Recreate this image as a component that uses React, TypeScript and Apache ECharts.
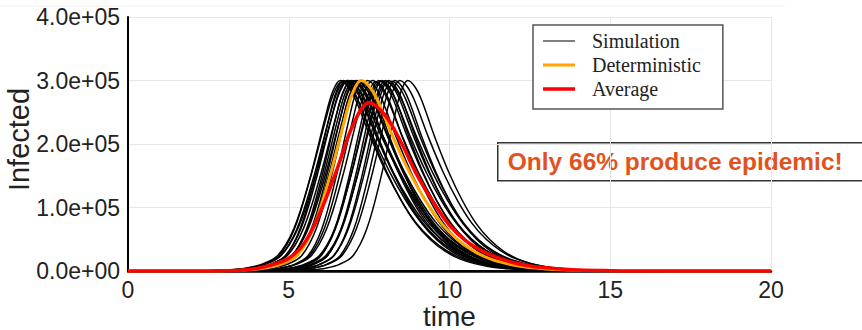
import React, { useEffect, useRef } from "react";
import * as echarts from "echarts";

// Epidemic curve shape (fraction of peak) against time offset from the peak,
// taken from the deterministic run.
const profileOffsets = [-5, -4.5, -4, -3.5, -3, -2.5, -2, -1.5, -1, -0.5, -0.25, 0, 0.25, 0.5, 1, 1.5, 2, 2.5, 3, 3.5, 4, 4.5, 5, 5.5, 6, 7, 8];
const profileShape = [0, 0.0005, 0.002, 0.006, 0.015, 0.035, 0.08, 0.22, 0.48, 0.8, 0.94, 1, 0.97, 0.9, 0.7, 0.52, 0.37, 0.25, 0.165, 0.105, 0.065, 0.04, 0.024, 0.014, 0.008, 0.003, 0.001];

// Deterministic run
const detPeakTime = 7.25;
const detPeakValue = 3.0e5;

// Stochastic runs that produced an epidemic: peak time, peak size, spread
const simPeakTimes = [6.6, 6.65, 6.7, 6.75, 6.8, 6.85, 6.9, 6.95, 7.0, 7.05, 7.1, 7.15, 7.2, 7.3, 7.45, 7.6, 7.7, 7.8, 7.85, 7.9, 8.0, 8.05, 8.1, 8.2, 8.3, 8.45, 8.7];
const simPeakValues = [3.0e5, 2.98e5, 3.0e5, 2.99e5, 3.0e5, 3.0e5, 2.98e5, 3.0e5, 2.99e5, 3.0e5, 3.0e5, 2.98e5, 3.0e5, 2.99e5, 3.0e5, 3.0e5, 2.98e5, 3.0e5, 2.99e5, 3.0e5, 3.0e5, 2.98e5, 3.0e5, 2.99e5, 3.0e5, 3.0e5, 3.0e5];
const simSpreads = [0.95, 1.0, 0.9, 1.0, 0.95, 1.05, 0.9, 1.0, 0.95, 0.9, 1.0, 0.95, 0.9, 0.85, 0.9, 0.95, 0.85, 0.9, 0.95, 0.85, 0.9, 0.95, 0.85, 0.9, 0.85, 0.9, 0.85];
// Stochastic runs that died out (flat at zero)
const flatRunCount = 14;

// Mean over all runs
const avgTimes = [0, 0.5, 1, 1.5, 2, 2.5, 3, 3.5, 4, 4.5, 5, 5.5, 6, 6.5, 7, 7.5, 8, 8.5, 9, 9.5, 10, 10.5, 11, 11.5, 12, 12.5, 13, 13.5, 14, 15, 16, 17, 18, 19, 20];
const avgValues = [0, 0, 0, 0, 0, 0, 200, 1000, 4000, 10000, 20000, 45000, 95000, 160000, 230000, 265000, 245000, 202000, 150000, 108000, 72000, 48000, 32000, 21000, 13000, 8000, 5000, 3000, 1500, 500, 0, 0, 0, 0, 0];

const xTicks = { min: 0, max: 20, interval: 5 };
const yTicks = { min: 0, max: 4e5, interval: 1e5 };

const legendNames = ["Simulation", "Deterministic", "Average"];
const xTitle = "time";
const yTitle = "Infected";
const noteText = "Only 66% produce epidemic!";

const SANS = "Liberation Sans, Arial, Helvetica, sans-serif";
const SERIF = "Liberation Serif, Times New Roman, serif";

function curve(peakTime: number, peakValue: number, spread: number): number[][] {
  const pts: number[][] = [[xTicks.min, 0]];
  profileOffsets.forEach((dt, i) => {
    const t = peakTime + dt * spread;
    if (t > xTicks.min && t < xTicks.max) pts.push([t, profileShape[i] * peakValue]);
  });
  pts.push([xTicks.max, 0]);
  return pts;
}

function sci(v: number): string {
  if (v === 0) return "0.0e+00";
  const e = Math.floor(Math.log10(v) + 1e-9);
  const m = v / Math.pow(10, e);
  return m.toFixed(1) + "e" + (e < 0 ? "-" : "+") + String(Math.abs(e)).padStart(2, "0");
}

export default function App() {
  const ref = useRef<HTMLDivElement>(null);

  useEffect(() => {
    if (!ref.current) return;
    const chart = echarts.init(ref.current, undefined, { renderer: "svg" });

    const simSeries = simPeakTimes.map((pt, i) => ({
      type: "line",
      name: "Simulation",
      data: curve(pt, simPeakValues[i], simSpreads[i]),
      symbol: "none",
      showSymbol: false,
      smooth: 0.35,
      lineStyle: { color: "#000", width: 1.5 },
      z: 2,
      silent: true,
    }));
    const flatSeries = Array.from({ length: flatRunCount }, () => ({
      type: "line",
      name: "Simulation",
      data: [[xTicks.min, 0], [xTicks.max, 0]],
      symbol: "none",
      showSymbol: false,
      lineStyle: { color: "#000", width: 1.5 },
      z: 2,
      silent: true,
    }));

    chart.setOption({
      animation: false,
      backgroundColor: "#fff",
      grid: { left: 128, right: 91, top: 17, bottom: 59, outerBoundsMode: "none", containLabel: false },
      xAxis: {
        type: "value",
        min: xTicks.min,
        max: xTicks.max,
        interval: xTicks.interval,
        name: xTitle,
        nameLocation: "middle",
        nameGap: 31,
        nameMoveOverlap: false,
        nameTextStyle: { fontFamily: SANS, fontSize: 28, color: "#222" },
        axisLine: { show: true, lineStyle: { color: "#000", width: 2.5 } },
        axisTick: { show: false },
        axisLabel: { fontFamily: SANS, fontSize: 23, color: "#222", margin: 7 },
        splitLine: { show: true, lineStyle: { color: "#e6e6e6", width: 1 } },
      },
      yAxis: {
        type: "value",
        min: yTicks.min,
        max: yTicks.max,
        interval: yTicks.interval,
        name: yTitle,
        nameLocation: "middle",
        nameGap: 95,
        nameMoveOverlap: false,
        nameTextStyle: { fontFamily: SANS, fontSize: 29, color: "#222", padding: [0, 0, 0, 9] },
        axisLine: { show: true, lineStyle: { color: "#000", width: 2 } },
        axisTick: { show: false },
        axisLabel: { fontFamily: SANS, fontSize: 23, color: "#222", margin: 8, formatter: (v: number) => sci(v) },
        splitLine: { show: true, lineStyle: { color: "#e6e6e6", width: 1 } },
      },
      legend: {
        show: true,
        orient: "vertical",
        left: 533,
        top: 25,
        padding: [6, 22, 10, 10],
        itemWidth: 32,
        itemHeight: 14,
        itemGap: 4,
        symbolKeepAspect: true,
        backgroundColor: "#fff",
        borderColor: "#555",
        borderWidth: 1.5,
        borderRadius: 0,
        selectedMode: false,
        textStyle: { fontFamily: SERIF, fontSize: 20, color: "#222", lineHeight: 20, padding: [0, 0, 0, 12] },
        data: [
          { name: legendNames[0], icon: "path://M0,0H32V1.5H0Z", itemStyle: { color: "#555" } },
          { name: legendNames[1], icon: "path://M0,0H32V3H0Z", itemStyle: { color: "#ffa500" } },
          { name: legendNames[2], icon: "path://M0,0H32V3.5H0Z", itemStyle: { color: "#ff0000" } },
        ],
      },
      graphic: [
        { type: "line", shape: { x1: 0, y1: 6, x2: 785, y2: 6 }, style: { stroke: "#f0f0f0", lineWidth: 1 }, silent: true },
        {
          type: "group",
          left: 497,
          top: 142,
          children: [
            { type: "rect", shape: { x: 0, y: 0, width: 380, height: 38 }, style: { fill: "#fff", stroke: "#333", lineWidth: 1.5 } },
            {
              type: "text",
              x: 10,
              y: 19,
              style: {
                text: noteText,
                fill: "#e2521d",
                fontFamily: SANS,
                fontWeight: "bold",
                fontSize: 24.5,
                verticalAlign: "middle",
                align: "left",
              },
            },
          ],
          z: 100,
        },
      ],
      series: [
        ...flatSeries,
        ...simSeries,
        {
          type: "line",
          name: "Deterministic",
          data: curve(detPeakTime, detPeakValue, 1),
          symbol: "none",
          showSymbol: false,
          smooth: 0.35,
          lineStyle: { color: "#ffa500", width: 3 },
          z: 3,
          silent: true,
        },
        {
          type: "line",
          name: "Average",
          data: avgTimes.map((t, i) => [t, avgValues[i]]),
          symbol: "none",
          showSymbol: false,
          smooth: 0.35,
          lineStyle: { color: "#ff0000", width: 3.5 },
          z: 4,
          silent: true,
        },
      ],
    });

    return () => chart.dispose();
  }, []);

  return <div ref={ref} style={{ position: "fixed", left: 0, top: 0, width: 862, height: 330 }} />;
}
